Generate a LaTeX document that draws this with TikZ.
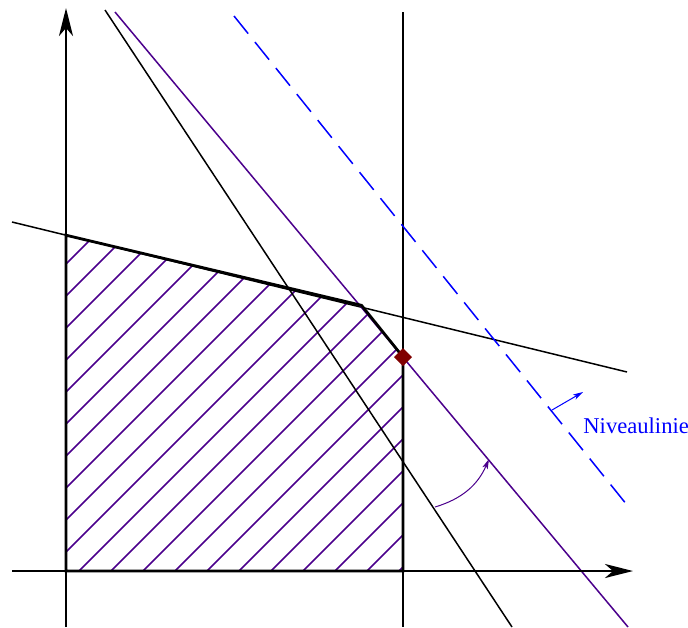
\documentclass[tikz,border=0pt]{standalone}
\usepackage{fontspec}
\setmainfont{Liberation Serif}
\usetikzlibrary{arrows.meta}
\definecolor{lilac}{RGB}{75,0,140}
\definecolor{darkred}{RGB}{128,0,0}

\begin{document}
\begin{tikzpicture}[x=0.5pt, y=-0.5pt, >=Stealth,
    axis/.style={line width=1.4pt, -{Stealth[length=14pt,width=7pt,inset=4pt]}},
    border/.style={line width=1.4pt, line join=miter},
    constraint/.style={line width=0.75pt},
    target/.style={line width=0.75pt, lilac},
    hatch/.style={line width=0.75pt, lilac},
    level/.style={line width=0.75pt, blue, dash pattern=on 11.3pt off 5.4pt},
    small arrow/.style={line width=0.5pt, -{Stealth[length=5pt,width=2.8pt,inset=1.2pt]}}]
    \useasboundingbox (0,0) rectangle (688,627);

    % Corners of the feasible region
    \coordinate (O) at (66,571);
    \coordinate (A) at (66,235.2);
    \coordinate (P) at (361.5,305.3);
    \coordinate (Q) at (403,357);
    \coordinate (B) at (403,571);

    % Hatching
    \begin{scope}
      \clip (O) -- (A) -- (P) -- (Q) -- (B) -- cycle;
      \foreach \c in {330,362,...,970}
        \draw[hatch] (\c-600,600) -- (\c-200,200);
    \end{scope}

    % Constraints
    \coordinate (c1s) at (12,222);   \coordinate (c1e) at (627,372);
    \coordinate (c2s) at (105,10);   \coordinate (c2e) at (512,627);
    \coordinate (c3s) at (403,12);   \coordinate (c3e) at (403,627);
    \draw[constraint] (c1s) -- (c1e);
    \draw[constraint] (c2s) -- (c2e);
    \draw[constraint] (c3s) -- (c3e);

    % Objective and level line
    \coordinate (zs) at (115,12);    \coordinate (ze) at (628,627);
    \coordinate (ns) at (234,16);    \coordinate (ne) at (627,505);
    \draw[target] (zs) -- (ze);
    \draw[level] (ns) -- (ne);

    % Border of the region
    \draw[border] (O) -- (A) -- (P) -- (Q) -- (B) -- cycle;

    % Axes
    \coordinate (xs) at (12,571);    \coordinate (xe) at (633,571);
    \coordinate (ys) at (66,627);    \coordinate (ye) at (66,8);
    \draw[axis] (xs) -- (xe);
    \draw[axis] (ys) -- (ye);

    % Rotation and label
    \coordinate (r1) at (435,507);   \coordinate (r2) at (489,459);
    \draw[lilac, small arrow] (r1) to[bend right=25] (r2);
    \coordinate (n1) at (552,410);   \coordinate (n2) at (583,392);
    \draw[blue, small arrow] (n1) -- (n2);
    \node[blue, anchor=base west, inner sep=0, font=\fontsize{11.3}{13}\selectfont]
      (label) at (583,433) {Niveaulinie};

    % Optimum
    \fill[darkred] (Q) ++(0,-9) -- ++(9,9) -- ++(-9,9) -- ++(-9,-9) -- cycle;
\end{tikzpicture}
\end{document}
